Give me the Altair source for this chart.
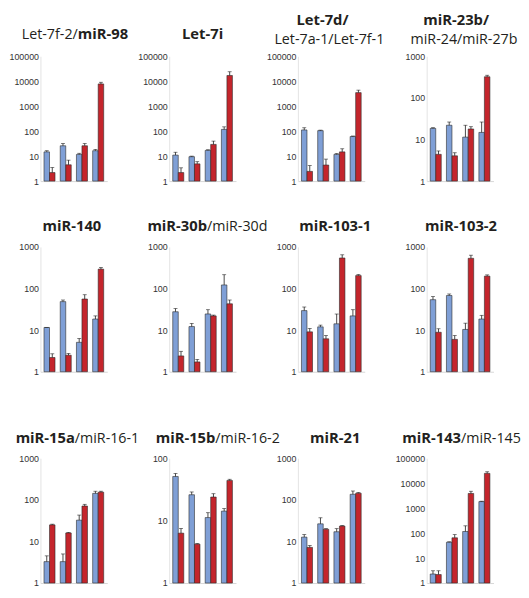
import altair as alt
import pandas as pd

# ---------------- data ----------------
panel_names = [
    "Let-7f-2/miR-98", "Let-7i", "Let-7d/Let-7a-1/Let-7f-1", "miR-23b/miR-24/miR-27b",
    "miR-140", "miR-30b/miR-30d", "miR-103-1", "miR-103-2",
    "miR-15a/miR-16-1", "miR-15b/miR-16-2", "miR-21", "miR-143/miR-145",
]
y_max = [100000, 100000, 100000, 1000,
         1000, 1000, 1000, 1000,
         1000, 100, 1000, 100000]
groups = ["1", "2", "3", "4"]

blue_values = [
    [14.8, 26, 11.7, 16.5], [11, 9.5, 17, 118], [112, 105, 11.7, 61], [18.5, 22, 11.4, 14.8],
    [11.6, 48.5, 5.1, 18.5], [27.7, 12.2, 24.5, 122], [29.5, 12, 14.2, 22], [54, 68, 10.4, 18.5],
    [3.27, 3.27, 32.5, 143], [51, 26, 11.2, 14.2], [12.7, 26.5, 17.1, 136], [2.3, 43, 116, 1830],
]
blue_upper = [
    [16.5, 32, 13, 18.5], [14.3, 10, 18, 149], [137, 110, 12.7, 64], [19.2, 26.3, 22, 26.3],
    [11.6, 53, 6.3, 22], [33, 14.5, 31, 215], [36, 13.2, 24.4, 31], [64, 74, 14.7, 22.7],
    [4.5, 5, 43, 161], [57, 28.8, 13.4, 15.6], [14.6, 37, 20.3, 163], [3.1, 45, 196, 1900],
]
red_values = [
    [2.2, 4.5, 26, 7800], [2.2, 4.9, 29.5, 17000], [2.45, 4.4, 14.8, 3500], [4.4, 4.05, 17.9, 322],
    [2.2, 2.5, 56, 293], [2.4, 1.72, 22, 43], [9.1, 6.2, 543, 205], [8.9, 6, 533, 199],
    [25, 16, 71, 153], [6.3, 4.2, 23.9, 44], [7.2, 19.6, 23.4, 144], [2.19, 65, 3880, 24800],
]
red_upper = [
    [3.5, 6.9, 32, 9100], [3.4, 6, 40, 24000], [4.2, 7.6, 19.7, 4400], [5.3, 4.8, 20.3, 350],
    [2.7, 2.75, 71, 320], [3.1, 1.98, 23, 53], [11, 7.4, 647, 217], [10.8, 7.4, 633, 213],
    [26, 16.5, 78, 161], [7.5, 4.3, 27, 46], [8, 20.3, 24, 150], [3.1, 87, 4750, 28700],
]

# title pieces: text, weight
title_texts = [
    [("Let-7f-2/", "normal"), ("miR-98", "bold")],
    [("Let-7i", "bold")],
    [("Let-7d/", "bold"), ("Let-7a-1/Let-7f-1", "normal")],
    [("miR-23b/", "bold"), ("miR-24/miR-27b", "normal")],
    [("miR-140", "bold")],
    [("miR-30b", "bold"), ("/miR-30d", "normal")],
    [("miR-103-1", "bold")],
    [("miR-103-2", "bold")],
    [("miR-15a", "bold"), ("/miR-16-1", "normal")],
    [("miR-15b", "bold"), ("/miR-16-2", "normal")],
    [("miR-21", "bold")],
    [("miR-143", "bold"), ("/miR-145", "normal")],
]

# ---------------- styling / layout ----------------
title_layout = [  # per piece: align, x offset, y offset (relative to plot area)
    [("right", 38, -18), ("left", 38, -18)],
    [("center", 34, -18)],
    [("center", 25, -32), ("center", 32, -12)],
    [("center", 30, -32), ("center", 38, -12)],
    [("center", 32, -16)],
    [("right", 38.5, -16), ("left", 38.5, -16)],
    [("center", 38, -16)],
    [("center", 35, -16)],
    [("right", 35, -16), ("left", 35, -16)],
    [("right", 47, -16), ("left", 47, -16)],
    [("center", 38, -16)],
    [("right", 35, -16), ("left", 35, -16)],
]

BLUE = "#7f9fd6"
RED = "#c4252c"
W = 68
H = 127
EXTRA_ROW3 = 21


def make_panel(i):
    rows = []
    for g, bv, bu, rv, ru in zip(groups, blue_values[i], blue_upper[i], red_values[i], red_upper[i]):
        rows.append({"group": g, "series": "A", "value": bv, "upper": bu})
        rows.append({"group": g, "series": "B", "value": rv, "upper": ru})
    df = pd.DataFrame(rows)

    top = EXTRA_ROW3 if i >= 8 else 0
    h = H + top
    decades = len(str(y_max[i])) - 1
    tick_vals = [10 ** k for k in range(decades + 1)]

    yscale = alt.Scale(type="log", domain=[1, y_max[i]], range=[h, top], nice=False)
    yaxis = alt.Axis(values=tick_vals, format="d", ticks=False, grid=False, title=None,
                     labelFont="Liberation Sans", labelFontSize=9, labelColor="#333333",
                     labelPadding=2, domainColor="#e3e3e3", domainWidth=1)
    xaxis = alt.Axis(labels=False, ticks=False, title=None, grid=False,
                     domainColor="#d6d6d6", domainWidth=1)

    base = alt.Chart(df).encode(
        x=alt.X("group:N", axis=xaxis,
                scale=alt.Scale(paddingInner=0.32, paddingOuter=0.22)),
        xOffset=alt.XOffset("series:N", scale=alt.Scale(paddingInner=0, paddingOuter=0)),
    )
    bars = base.mark_bar(stroke="#2b2b2b", strokeWidth=0.6).encode(
        y=alt.Y("value:Q", scale=yscale, axis=yaxis),
        y2=alt.datum(1),
        color=alt.Color("series:N", scale=alt.Scale(domain=["A", "B"], range=[BLUE, RED]),
                        legend=None),
    )
    err = base.mark_rule(color="#1a1a1a", strokeWidth=0.8).encode(
        y=alt.Y("value:Q"), y2=alt.Y2("upper:Q"))
    cap = base.mark_tick(color="#1a1a1a", thickness=0.8, size=4).encode(
        y=alt.Y("upper:Q"))

    layers = [bars, err, cap]
    for (txt, weight), (align, dx, dy) in zip(title_texts[i], title_layout[i]):
        t = alt.Chart(alt.Data(values=[{"t": txt}])).mark_text(
            font="Open Sans", fontSize=15 if weight == "bold" else 14.5,
            fontWeight=weight, align=align, baseline="alphabetic", color="#231f20",
        ).encode(x=alt.value(dx), y=alt.value(dy + top), text="t:N")
        layers.append(t)

    return alt.layer(*layers).properties(width=W, height=h)


panels = [make_panel(i) for i in range(len(panel_names))]

chart = alt.concat(
    *panels, columns=4, spacing={"row": 67, "column": 63}, bounds="flush"
).properties(padding=0).configure_view(strokeWidth=0).resolve_scale(xOffset="independent")

chart.save("out.html", embed_options={"renderer": "svg", "actions": False})
